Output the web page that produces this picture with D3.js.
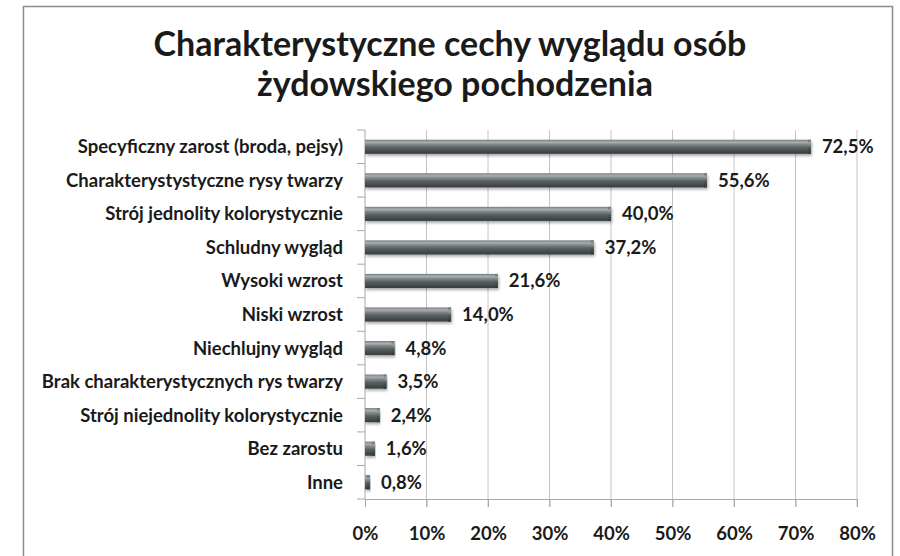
<!DOCTYPE html>
<html>
<head>
<meta charset="utf-8">
<script src="https://cdn.jsdelivr.net/npm/d3@7"></script>
<style>
  html, body { margin: 0; padding: 0; background: #fff; }
  svg { display: block; }
  text { font-family: Lato, "Open Sans", sans-serif; fill: #1a1a1a; }
</style>
</head>
<body>
<svg id="chart" width="900" height="556"></svg>
<script>
const titleLines = ["Charakterystyczne cechy wyglądu osób", "żydowskiego pochodzenia"];
const categories = [
  "Specyficzny zarost (broda, pejsy)",
  "Charakterystystyczne rysy twarzy",
  "Strój jednolity kolorystycznie",
  "Schludny wygląd",
  "Wysoki wzrost",
  "Niski wzrost",
  "Niechlujny wygląd",
  "Brak charakterystycznych rys twarzy",
  "Strój niejednolity kolorystycznie",
  "Bez zarostu",
  "Inne"
];
const values = [72.5, 55.6, 40.0, 37.2, 21.6, 14.0, 4.8, 3.5, 2.4, 1.6, 0.8];
const xTicks = [0, 10, 20, 30, 40, 50, 60, 70, 80];

const svg = d3.select("#chart");
const locale = d3.formatLocale({decimal: ",", thousands: " ", grouping: [3], currency: ["", " zł"]});
const fmt = locale.format(".1f");

// frame
svg.append("rect").attr("x", 23.5).attr("y", 6.5).attr("width", 869).attr("height", 560)
  .attr("fill", "#fff").attr("stroke", "#8c8c8c").attr("stroke-width", 1.5);

// title
svg.append("text").attr("x", 450).attr("y", 56).attr("text-anchor", "middle")
  .style("font-size", "34px").style("font-weight", "700").text(titleLines[0]);
svg.append("text").attr("x", 455).attr("y", 96).attr("text-anchor", "middle")
  .style("font-size", "34px").style("font-weight", "700").text(titleLines[1]);

const x = d3.scaleLinear().domain([0, 80]).range([365, 857]);
const y = d3.scaleBand().domain(categories).range([130, 499]).paddingInner(0.58).paddingOuter(0.29);
const yb = d3.scaleBand().domain(categories).range([130, 499]);

// gradient
const defs = svg.append("defs");
const g = defs.append("linearGradient").attr("id", "barGrad").attr("x1", 0).attr("y1", 0).attr("x2", 0).attr("y2", 1);
[[0, "#767e7f"], [0.18, "#aab0b0"], [0.32, "#858c8d"], [0.55, "#5a6263"], [1, "#353c3d"]]
  .forEach(([o, c]) => g.append("stop").attr("offset", o).attr("stop-color", c));
const cap = defs.append("linearGradient").attr("id", "capGrad").attr("x1", 0).attr("y1", 0).attr("x2", 0).attr("y2", 1);
[[0, "#6a7273"], [0.25, "#9aa0a0"], [0.6, "#4c5455"], [1, "#2f3536"]]
  .forEach(([o, c]) => cap.append("stop").attr("offset", o).attr("stop-color", c));
const shadow = defs.append("filter").attr("id", "shadow").attr("x", "-5%").attr("y", "-30%").attr("width", "110%").attr("height", "180%");
shadow.append("feGaussianBlur").attr("in", "SourceAlpha").attr("stdDeviation", 1.5);
shadow.append("feOffset").attr("dx", 1).attr("dy", 2).attr("result", "ob");
shadow.append("feComponentTransfer").append("feFuncA").attr("type", "linear").attr("slope", 0.35);
const mrg = shadow.append("feMerge");
mrg.append("feMergeNode");
mrg.append("feMergeNode").attr("in", "SourceGraphic");

// gridlines
svg.append("g").selectAll("line").data(xTicks.slice(1)).join("line")
  .attr("x1", d => x(d)).attr("x2", d => x(d)).attr("y1", 130).attr("y2", 507)
  .attr("stroke", "#c4c4c4").attr("stroke-width", 1);

// x axis
const xAxis = svg.append("g").attr("transform", "translate(0,499)")
  .call(d3.axisBottom(x).tickValues(xTicks).tickFormat(d => d + "%").tickSize(8).tickPadding(20));
xAxis.select(".domain").attr("stroke", "#a8a8a8");
xAxis.selectAll(".tick line").attr("stroke", "#a8a8a8");
xAxis.selectAll("text").style("font-size", "18.5px").style("font-weight", "700")
  .attr("fill", "#1a1a1a").style("font-family", "Lato, sans-serif");

// y axis (category boundaries ticks)
svg.append("line").attr("x1", 365).attr("x2", 365).attr("y1", 130).attr("y2", 499).attr("stroke", "#a8a8a8");
svg.append("g").selectAll("line").data(categories.concat(["__end"])).join("line")
  .attr("x1", 357).attr("x2", 365)
  .attr("y1", (d, i) => i < categories.length ? yb(d) : 499)
  .attr("y2", (d, i) => i < categories.length ? yb(d) : 499)
  .attr("stroke", "#a8a8a8");

// category labels
svg.append("g").selectAll("text").data(categories).join("text")
  .attr("x", 343).attr("y", d => yb(d) + yb.bandwidth() / 2)
  .attr("dy", "0.35em").attr("text-anchor", "end")
  .style("font-size", "18.5px").style("font-weight", "700").text(d => d);

// bars
const bars = svg.append("g");
bars.selectAll("rect.bar").data(values).join("rect").attr("class", "bar")
  .attr("x", x(0)).attr("y", (d, i) => y(categories[i]))
  .attr("width", d => x(d) - x(0)).attr("height", y.bandwidth())
  .attr("fill", "url(#barGrad)").attr("filter", "url(#shadow)");
bars.selectAll("rect.cap").data(values).join("rect").attr("class", "cap")
  .attr("x", d => x(d) - 3).attr("y", (d, i) => y(categories[i]))
  .attr("width", d => Math.min(3, x(d) - x(0))).attr("height", y.bandwidth())
  .attr("fill", "url(#capGrad)");

// value labels
svg.append("g").selectAll("text").data(values).join("text")
  .attr("x", d => x(d) + 11).attr("y", (d, i) => yb(categories[i]) + yb.bandwidth() / 2)
  .attr("dy", "0.35em")
  .style("font-size", "18.5px").style("font-weight", "700").text(d => fmt(d) + "%");
</script>
</body>
</html>
